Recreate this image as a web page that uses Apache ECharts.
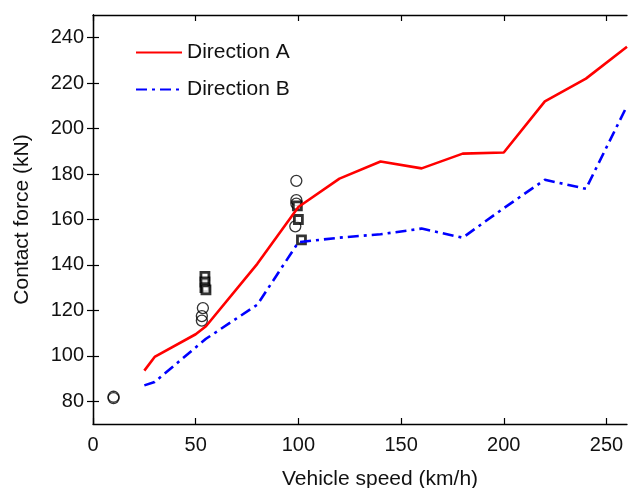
<!DOCTYPE html>
<html>
<head>
<meta charset="utf-8">
<script src="https://cdn.jsdelivr.net/npm/echarts@6/dist/echarts.min.js"></script>
<style>
  html, body { margin: 0; padding: 0; background: #fff; }
  #chart { width: 629px; height: 488px; }
</style>
</head>
<body>
<div id="chart"></div>
<script>
// Direction A (red solid)
const speedA = [25, 30, 50, 55, 80, 100, 120, 140, 160, 180, 200, 220, 240, 260]
const forceA = [93.5, 99.5, 109.5, 113, 140.5, 165.5, 178, 185.5, 182.5, 189, 189.5, 212, 222, 236]

// Direction B (blue dash-dot)
const speedB = [25, 30, 55, 80, 100, 120, 140, 160, 180, 200, 220, 240, 260]
const forceB = [87, 88.5, 107.5, 122.5, 150, 152, 153.5, 156, 152, 165, 177.5, 173.5, 210]

// measured points
const circleX = [10, 10, 53.5, 53, 53, 99, 99, 99, 98.5]
const circleY = [82, 81.4, 121, 117.5, 115.5, 177, 168.5, 167, 157]
const squareX = [54.5, 54.5, 54.5, 55, 99.5, 100, 101.5]
const squareY = [135, 132.5, 130, 129, 166, 160, 151]

const xTicks = [0, 50, 100, 150, 200, 250]
const yTicks = [80, 100, 120, 140, 160, 180, 200, 220, 240]

const zip = (xs, ys) => xs.map((x, i) => [x, ys[i]])

const font = 'Liberation Sans, Arial, sans-serif'
const axisLine = { show: true, lineStyle: { color: '#000', width: 1.3 } }
const tick = (vals) => ({ show: true, inside: true, length: 6, lineStyle: { color: '#000', width: 1.2 }, customValues: vals })

const chart = echarts.init(document.getElementById('chart'))
chart.setOption({
  animation: false,
  textStyle: { fontFamily: font },
  grid: { left: 93, right: 2, top: 15, bottom: 64, outerBoundsMode: 'none' },
  legend: {
    data: ['Direction A', 'Direction B'],
    orient: 'vertical',
    left: 135,
    top: 42,
    padding: 0,
    itemWidth: 46,
    itemHeight: 14,
    itemGap: 16,
    itemStyle: { opacity: 0 },
    textStyle: { fontSize: 21, color: '#111', fontFamily: font },
  },
  xAxis: [
    {
      type: 'value', min: 0, max: 260,
      name: 'Vehicle speed (km/h)', nameLocation: 'middle', nameGap: 45,
      nameTextStyle: { fontSize: 21, color: '#111', padding: [0, 0, 0, 40] },
      axisLine, axisTick: tick(xTicks),
      axisLabel: { fontSize: 20, color: '#111', margin: 11, customValues: xTicks },
      splitLine: { show: false },
    },
    {
      type: 'value', min: 0, max: 260, position: 'top',
      axisLine, axisTick: tick(xTicks),
      axisLabel: { show: false }, splitLine: { show: false },
    },
  ],
  yAxis: [
    {
      type: 'value', min: 70, max: 250,
      name: 'Contact force (kN)', nameLocation: 'middle', nameGap: 60,
      nameTextStyle: { fontSize: 21, color: '#111' },
      axisLine, axisTick: tick(yTicks),
      axisLabel: { fontSize: 20, color: '#111', margin: 9, customValues: yTicks },
      splitLine: { show: false },
    },
    {
      type: 'value', min: 70, max: 250, position: 'right',
      axisLine, axisTick: tick(yTicks),
      axisLabel: { show: false }, splitLine: { show: false },
    },
  ],
  series: [
    {
      name: 'Direction A', type: 'line', data: zip(speedA, forceA),
      symbol: 'none',
      lineStyle: { color: '#ff0000', width: 2.6 },
      itemStyle: { color: '#ff0000' },
    },
    {
      name: 'Direction B', type: 'line', data: zip(speedB, forceB),
      symbol: 'none',
      lineStyle: { color: '#0000ff', width: 2.6, type: [11, 5, 3, 5] },
      itemStyle: { color: '#0000ff' },
    },
    {
      name: 'circles', type: 'scatter', data: zip(circleX, circleY),
      symbol: 'circle', symbolSize: 11,
      itemStyle: { color: 'rgba(0,0,0,0)', borderColor: '#000', borderWidth: 1.3 },
    },
    {
      name: 'squares', type: 'scatter', data: zip(squareX, squareY),
      symbol: 'rect', symbolSize: 8,
      itemStyle: { color: '#fff', borderColor: '#000', borderWidth: 2.8 },
    },
  ],
})
</script>
</body>
</html>
